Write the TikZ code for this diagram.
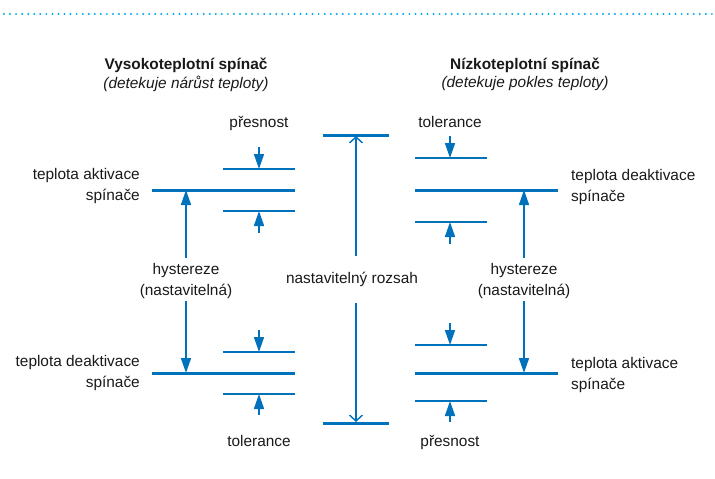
\documentclass[tikz,border=0pt]{standalone}
\usepackage{fontspec}
\setmainfont{Liberation Sans}
\usetikzlibrary{arrows.meta}
\definecolor{mainblue}{RGB}{0,114,188}
\definecolor{dotblue}{RGB}{0,170,235}
\definecolor{txt}{RGB}{25,25,25}
\begin{document}
\begin{tikzpicture}[x=1pt,y=-1pt,
  thickln/.style={draw=mainblue,line width=3pt},
  thinln/.style={draw=mainblue,line width=1.6pt},
  tarrow/.style={draw=mainblue,line width=1.6pt,-{Triangle[width=10pt,length=15pt]}},
  oarrow/.style={draw=mainblue,line width=1.4pt,-{Straight Barb[length=6pt,width=13pt,line width=1.4pt]}},
  lbl/.style={text=txt,font=\fontsize{15.4}{20.5}\selectfont,inner sep=0pt},
  ttl/.style={text=txt,font=\fontsize{15.4}{18}\selectfont\bfseries,inner sep=0pt},
  sub/.style={text=txt,font=\fontsize{15.4}{18}\selectfont\itshape,inner sep=0pt}]
\useasboundingbox (0,0) rectangle (715,479);
% dotted top line
\draw[dotblue,line width=2.2pt,line cap=round,dash pattern=on 0pt off 6.05pt] (4,14) -- (715,14);

% titles
\node[ttl] (t1) at (186,65) {Vysokoteplotní spínač};
\node[sub] (s1) at (186,84) {(detekuje nárůst teploty)};
\node[ttl] (t2) at (525,65) {Nízkoteplotní spínač};
\node[sub] (s2) at (525,84) {(detekuje pokles teploty)};

% ---------- left side ----------
\draw[thickln] (152,190) -- (295,190);
\draw[thinln] (223,169) -- (295,169);
\draw[thinln] (223,211) -- (295,211);
\draw[thickln] (152,373) -- (295,373);
\draw[thinln] (223,352) -- (295,352);
\draw[thinln] (223,394) -- (295,394);

\coordinate (la1s) at (259,147); \coordinate (la1e) at (259,169);
\coordinate (la2s) at (259,233); \coordinate (la2e) at (259,211);
\coordinate (la3s) at (259,330); \coordinate (la3e) at (259,352);
\coordinate (la4s) at (259,415); \coordinate (la4e) at (259,394);
\draw[tarrow] (la1s) -- (la1e);
\draw[tarrow] (la2s) -- (la2e);
\draw[tarrow] (la3s) -- (la3e);
\draw[tarrow] (la4s) -- (la4e);

\node[lbl] (lp) at (259,123) {přesnost};
\node[lbl] (lt) at (259,441) {tolerance};

\coordinate (lh1s) at (186,258); \coordinate (lh1e) at (186,190);
\coordinate (lh2s) at (186,301); \coordinate (lh2e) at (186,373);
\draw[tarrow] (lh1s) -- (lh1e);
\draw[tarrow] (lh2s) -- (lh2e);
\node[lbl,align=center] (lh) at (186,281) {hystereze\\(nastavitelná)};

\node[lbl,align=right,anchor=east] (lact) at (140,186) {teplota aktivace\\spínače};
\node[lbl,align=right,anchor=east] (ldeact) at (140,373) {teplota deaktivace\\spínače};

% ---------- center ----------
\draw[thickln] (323,135) -- (389,135);
\draw[thickln] (323,423) -- (389,423);
\coordinate (c1s) at (356,256); \coordinate (c1e) at (356,136);
\coordinate (c2s) at (356,303); \coordinate (c2e) at (356,422);
\draw[oarrow] (c1s) -- (c1e);
\draw[oarrow] (c2s) -- (c2e);
\node[lbl] (cr) at (352,279) {nastavitelný rozsah};

% ---------- right side ----------
\draw[thickln] (415,190) -- (558,190);
\draw[thinln] (415,158) -- (487,158);
\draw[thinln] (415,222) -- (487,222);
\draw[thickln] (415,373) -- (558,373);
\draw[thinln] (415,345) -- (487,345);
\draw[thinln] (415,401) -- (487,401);

\coordinate (ra1s) at (450,136); \coordinate (ra1e) at (450,158);
\coordinate (ra2s) at (450,244); \coordinate (ra2e) at (450,222);
\coordinate (ra3s) at (450,323); \coordinate (ra3e) at (450,345);
\coordinate (ra4s) at (450,422); \coordinate (ra4e) at (450,401);
\draw[tarrow] (ra1s) -- (ra1e);
\draw[tarrow] (ra2s) -- (ra2e);
\draw[tarrow] (ra3s) -- (ra3e);
\draw[tarrow] (ra4s) -- (ra4e);

\node[lbl] (rt) at (450,122) {tolerance};
\node[lbl] (rp) at (450,442) {přesnost};

\coordinate (rh1s) at (524,258); \coordinate (rh1e) at (524,190);
\coordinate (rh2s) at (524,301); \coordinate (rh2e) at (524,373);
\draw[tarrow] (rh1s) -- (rh1e);
\draw[tarrow] (rh2s) -- (rh2e);
\node[lbl,align=center] (rh) at (524,281) {hystereze\\(nastavitelná)};

\node[lbl,align=left,anchor=west] (rdeact) at (571,187) {teplota deaktivace\\spínače};
\node[lbl,align=left,anchor=west] (ract) at (571,375) {teplota aktivace\\spínače};
\end{tikzpicture}
\end{document}
